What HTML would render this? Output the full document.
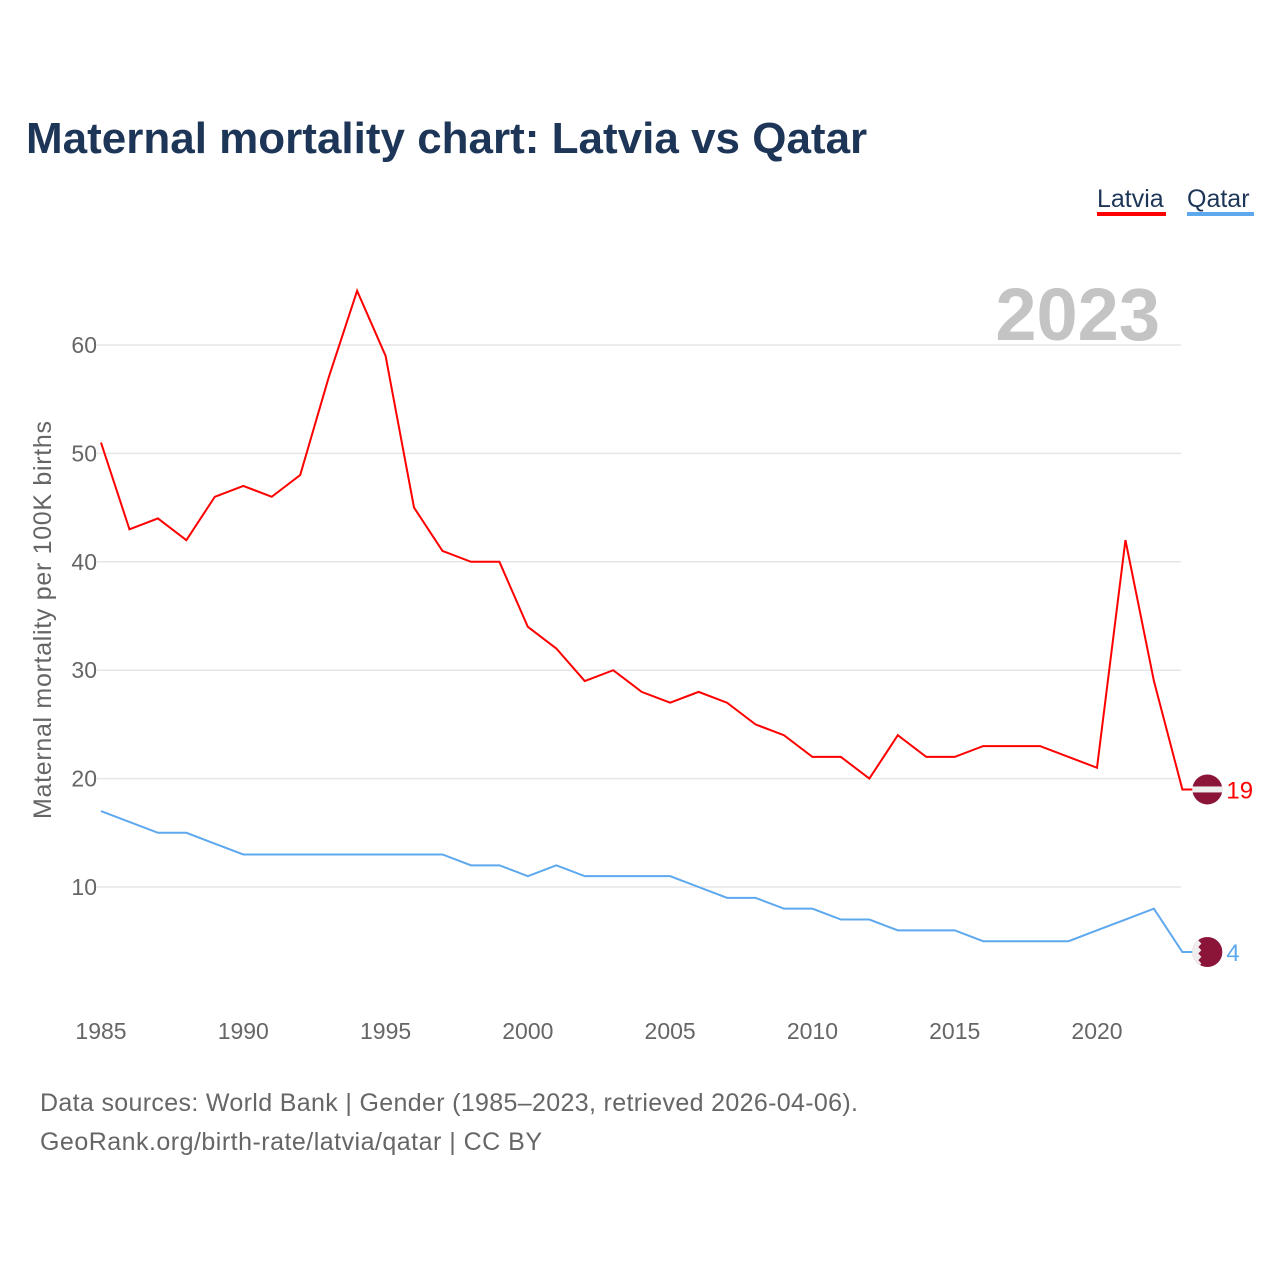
<!DOCTYPE html>
<html><head><meta charset="utf-8"><style>
body{margin:0;background:#fff;font-family:"Liberation Sans",sans-serif;}
#wrap{position:relative;width:1280px;height:1280px;overflow:hidden;}
</style></head><body>
<div id="wrap">
<svg id="chart" width="1280" height="1280">
<defs><clipPath id="qc"><circle id="qcc" cx="0" cy="0" r="15"/></clipPath></defs>
<text x="26" y="153" font-size="44" font-weight="bold" fill="#1d3557">Maternal mortality chart: Latvia vs Qatar</text>
<g><text x="1097" y="207" font-size="25" fill="#1d3557">Latvia</text><rect x="1097" y="212" width="69" height="4" fill="#f00"/></g>
<g><text x="1187" y="207" font-size="25" fill="#1d3557">Qatar</text><rect x="1187" y="212" width="67" height="4" fill="#5ea8ee"/></g>
<text x="1160" y="340" font-size="74" font-weight="bold" fill="#c4c4c4" text-anchor="end">2023</text>
<text transform="translate(51,620) rotate(-90)" font-size="25" fill="#666" text-anchor="middle" textLength="398">Maternal mortality per 100K births</text>
<g id="grid"></g><g id="lines"></g>
<text x="40" y="1111" font-size="25" fill="#666" textLength="818">Data sources: World Bank | Gender (1985–2023, retrieved 2026-04-06).</text>
<text x="40" y="1150" font-size="25" fill="#666" textLength="502">GeoRank.org/birth-rate/latvia/qatar | CC BY</text>
</svg>
</div>
<script>
const years=[1985,1986,1987,1988,1989,1990,1991,1992,1993,1994,1995,1996,1997,1998,1999,2000,2001,2002,2003,2004,2005,2006,2007,2008,2009,2010,2011,2012,2013,2014,2015,2016,2017,2018,2019,2020,2021,2022,2023];
const latvia=[51,43,44,42,46,47,46,48,57,65,59,45,41,40,40,34,32,29,30,28,27,28,27,25,24,22,22,20,24,22,22,23,23,23,22,21,42,29,19];
const qatar=[17,16,15,15,14,13,13,13,13,13,13,13,13,12,12,11,12,11,11,11,11,10,9,9,8,8,7,7,6,6,6,5,5,5,5,6,7,8,4];
const yTicks=[10,20,30,40,50,60];
const xTicks=[1985,1990,1995,2000,2005,2010,2015,2020];
const NS="http://www.w3.org/2000/svg";
const X=y=>101+(y-1985)*(996/35);
const Y=v=>995.4-v*10.84;
function mk(t,a,p){const e=document.createElementNS(NS,t);for(const k in a)e.setAttribute(k,a[k]);p.appendChild(e);return e;}
const grid=document.getElementById('grid'),lines=document.getElementById('lines');
yTicks.forEach(v=>{
 const l=mk('line',{x1:97,x2:1181,y1:Y(v),y2:Y(v),stroke:'#e6e6e6','stroke-width':1.5},grid);
 
 
 const t=mk('text',{x:97,y:Y(v)+8,'font-size':23,fill:'#666','text-anchor':'end'},grid);t.textContent=v;
 
 
});
xTicks.forEach(v=>{
 const t=mk('text',{x:X(v),y:1039,'font-size':23,fill:'#666','text-anchor':'middle'},grid);t.textContent=v;
 
 
});
function series(vals,color,name,flag){
 const last=vals[vals.length-1];
 const pts=vals.map((v,i)=>X(years[i])+','+Y(v)).join(' ')+' '+(X(2023)+10)+','+Y(last);
 const p=mk('polyline',{points:pts,fill:'none',stroke:color,'stroke-width':2},lines);
 
 
 const cx=X(2023)+25,cy=Y(last);
 const g=mk('g',{},lines);
 
 
 if(flag==='lv'){
  mk('circle',{cx:cx,cy:cy,r:15,fill:'#8b1538'},g);
  mk('rect',{x:cx-15,y:cy-3,width:30,height:6,fill:'#eee'},g);
 } else {
  const c=document.getElementById('qcc');c.setAttribute('cx',cx);c.setAttribute('cy',cy);
  const gg=mk('g',{'clip-path':'url(#qc)'},g);
  mk('rect',{x:cx-15,y:cy-15,width:30,height:30,fill:'#8b1538'},gg);
  mk('path',{d:`M${cx-16},${cy-15} h10 l-3,3.3 l3,3.3 l-3,3.3 l3,3.3 l-3,3.3 l3,3.3 l-3,3.3 l3,3.3 l-3,3.3 h-7 z`,fill:'#eee'},gg);
 }
 const t=mk('text',{x:cx+19,y:cy+9,'font-size':24,fill:color},lines);t.textContent=last;
 
 
}
series(latvia,'#ff0000','latvia','lv');
series(qatar,'#5ea8ee','qatar','qa');
</script>
</body></html>
